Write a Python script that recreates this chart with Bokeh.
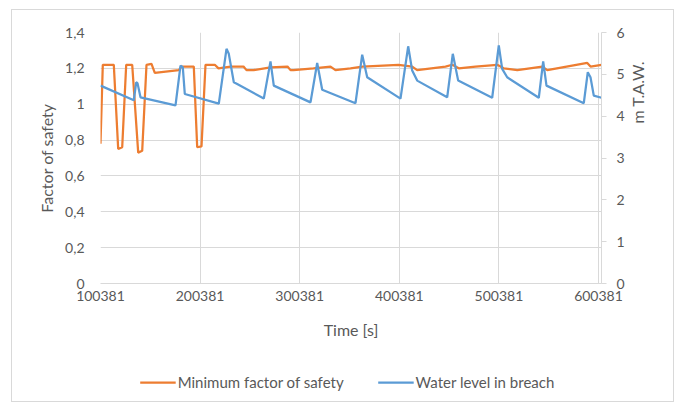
import math

from bokeh.plotting import figure
from bokeh.layouts import column, row
from bokeh.models import (Range1d, LinearAxis, FixedTicker, BasicTickFormatter,
                          CustomJSTickFormatter, Legend, LegendItem, Label)
from bokeh.embed import file_html
from bokeh.resources import INLINE

# Minimum factor of safety over time (left axis)
time_fs = [100381, 102690, 113734, 118152, 122168, 126184, 132208, 138233, 142249,
           146565, 151585, 154898, 178994, 181705, 194054, 197468, 201785, 205801,
           215138, 218853, 230901, 243953, 246965, 253993, 271061, 288129, 291141,
           294153, 314233, 331301, 336321, 351381, 363429, 399573, 413328, 418348,
           446761, 453488, 460114, 476881, 498668, 505294, 518835, 543935, 548947,
           589108, 592361, 603400]
factor_of_safety = [0.78, 1.22, 1.22, 0.75, 0.76, 1.22, 1.22, 0.73, 0.74,
                    1.22, 1.225, 1.175, 1.19, 1.21, 1.21, 0.76, 0.765, 1.22,
                    1.22, 1.20, 1.21, 1.21, 1.19, 1.19, 1.205, 1.21, 1.19,
                    1.19, 1.20, 1.21, 1.19, 1.20, 1.21, 1.22, 1.21, 1.19,
                    1.21, 1.22, 1.20, 1.21, 1.22, 1.20, 1.19, 1.21, 1.19,
                    1.23, 1.21, 1.22]

# Water level in the breach (right axis, m T.A.W.)
time_wl = [100381, 133814, 136224, 137529, 140541, 175681, 180701, 183010, 185018,
           219153, 226885, 229194, 234214, 237627, 264333, 271061, 274374, 311221,
           317948, 322968, 356401, 363128, 368148, 401581, 409311, 413328, 418348,
           448468, 454090, 459512, 493648, 500274, 503688, 508708, 540434, 544851,
           548165, 585614, 589630, 592341, 595654, 603400]
water_level = [4.73, 4.38, 4.81, 4.79, 4.45, 4.26, 5.21, 5.17, 4.53,
               4.30, 5.61, 5.49, 4.81, 4.77, 4.42, 5.31, 4.73, 4.33,
               5.27, 4.63, 4.31, 5.47, 4.93, 4.42, 5.67, 5.09, 4.85,
               4.45, 5.49, 4.85, 4.44, 5.69, 5.13, 4.93, 4.44, 5.31,
               4.73, 4.31, 5.05, 4.93, 4.49, 4.44]

x_ticks = [100381, 200381, 300381, 400381, 500381, 600381]
fs_ticks = [0, 0.2, 0.4, 0.6, 0.8, 1.0, 1.2, 1.4]
wl_ticks = [0, 1, 2, 3, 4, 5, 6]

FONT = "Lato"
TEXT = "#595959"
GRID = "#d9d9d9"
ORANGE = "#ED7D31"
BLUE = "#5B9BD5"

p = figure(width=616, height=340, output_backend="svg", toolbar_location=None,
           x_range=Range1d(100381, 603400), y_range=Range1d(0, 1.4),
           min_border_left=88, min_border_right=27, min_border_top=22,
           min_border_bottom=67, x_axis_label="Time [s]",
           y_axis_label="Factor of safety")
p.outline_line_color = None
p.background_fill_color = "white"
p.border_fill_color = "white"

p.extra_y_ranges = {"wl": Range1d(0, 6)}
right = LinearAxis(y_range_name="wl", ticker=FixedTicker(ticks=wl_ticks))
p.add_layout(right, "right")

# x axis
xa = p.xaxis[0]
xa.ticker = FixedTicker(ticks=x_ticks)
xa.formatter = BasicTickFormatter(use_scientific=False)
xa.axis_line_color = GRID
xa.major_tick_line_color = None
xa.major_tick_out = 0
xa.major_tick_in = 0
xa.minor_tick_line_color = None
xa.minor_tick_out = 0
xa.major_label_standoff = 7
xa.axis_label_standoff = 16

# left axis
ya = p.yaxis[0]
ya.ticker = FixedTicker(ticks=fs_ticks)
ya.formatter = CustomJSTickFormatter(
    code="return (Math.round(tick * 10) / 10).toString().replace('.', ',');")
ya.axis_line_color = None
ya.major_tick_line_color = None
ya.major_tick_out = 0
ya.major_tick_in = 0
ya.minor_tick_line_color = None
ya.minor_tick_out = 0
ya.major_label_standoff = 16
ya.axis_label_standoff = 6

# right axis
right.axis_line_color = GRID
right.major_tick_line_color = GRID
right.major_tick_out = 5
right.major_tick_in = 0
right.minor_tick_line_color = None
right.minor_tick_out = 0
right.major_label_standoff = 10

for ax in (xa, ya, right):
    ax.major_label_text_font = FONT
    ax.major_label_text_font_size = "14px"
    ax.major_label_text_color = TEXT
    ax.axis_label_text_font = FONT
    ax.axis_label_text_font_size = "16px"
    ax.axis_label_text_font_style = "normal"
    ax.axis_label_text_color = TEXT

p.xgrid.ticker = FixedTicker(ticks=x_ticks)
p.ygrid.ticker = FixedTicker(ticks=fs_ticks)
p.xgrid.grid_line_color = GRID
p.ygrid.grid_line_color = GRID

p.line(time_fs, factor_of_safety, line_color=ORANGE, line_width=2.25)
p.line(time_wl, water_level, line_color=BLUE, line_width=2.25, y_range_name="wl")

# title of the secondary axis, in its own narrow strip to the right
lab = figure(width=45, height=340, output_backend="svg", toolbar_location=None,
             x_axis_location=None, y_axis_location=None,
             min_border_left=0, min_border_right=0, min_border_top=0,
             min_border_bottom=0)
lab.outline_line_color = None
lab.xgrid.visible = False
lab.ygrid.visible = False
lab.add_layout(Label(x=9, y=160, x_units="screen", y_units="screen",
                     text="m T.A.W.", angle=math.pi / 2,
                     text_align="left", text_baseline="middle",
                     text_font=FONT, text_font_size="16px", text_color=TEXT))

# legend strip underneath the plot; the series are drawn here outside the
# visible y-range so that only their legend samples show
leg = figure(width=661, height=51, output_backend="svg", toolbar_location=None,
             x_axis_location=None, y_axis_location=None,
             x_range=Range1d(100381, 603400), y_range=Range1d(100, 101),
             min_border_left=9, min_border_right=0, min_border_top=13,
             min_border_bottom=0)
leg.outline_line_color = None
leg.xgrid.visible = False
leg.ygrid.visible = False
k_fs = leg.line(time_fs, factor_of_safety, line_color=ORANGE, line_width=2.25)
k_wl = leg.line(time_wl, water_level, line_color=BLUE, line_width=2.25)

legend = Legend(items=[LegendItem(label="Minimum factor of safety", renderers=[k_fs]),
                       LegendItem(label="Water level in breach", renderers=[k_wl])],
                orientation="horizontal", location="center")
legend.border_line_color = None
legend.background_fill_alpha = 0
legend.label_text_font = FONT
legend.label_text_font_size = "15px"
legend.label_text_color = TEXT
legend.glyph_width = 36
legend.label_standoff = 2
legend.spacing = 34
legend.padding = 4
legend.margin = 0
leg.add_layout(legend)

# chart area with a thin grey frame
chart = column(row(p, lab, spacing=0), leg, spacing=0, margin=(10, 0, 0, 12),
               styles={"outline": "1px solid #d9d9d9"})

open("out.html", "w").write(file_html(chart, INLINE))
